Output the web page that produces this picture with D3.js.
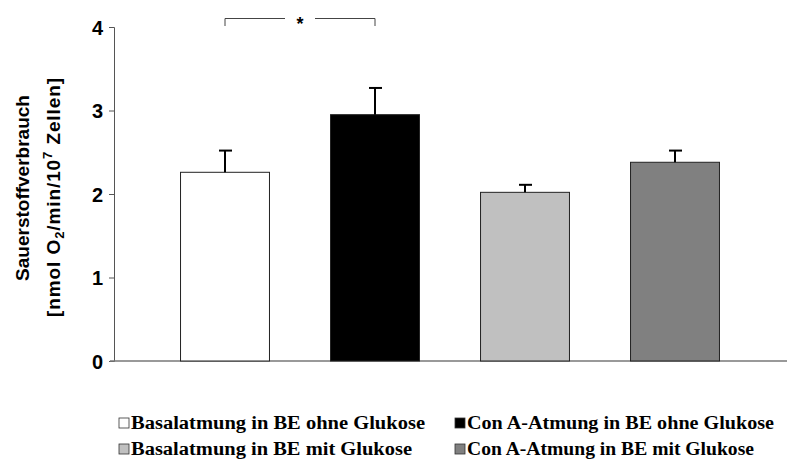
<!doctype html>
<html>
<head>
<meta charset="utf-8">
<title>Sauerstoffverbrauch</title>
<script src="https://cdn.jsdelivr.net/npm/d3@7"></script>
<style>
  body { margin: 0; background: #fff; }
  svg { display: block; }
</style>
</head>
<body>
<svg width="787" height="466"></svg>
<script>
// data
var categories = ["Basalatmung in BE ohne Glukose", "Con A-Atmung in BE ohne Glukose",
                  "Basalatmung in BE mit Glukose", "Con A-Atmung in BE mit Glukose"];
var means = [2.26, 2.95, 2.02, 2.38];
var errors = [0.26, 0.32, 0.09, 0.14];
var fills = ["#ffffff", "#000000", "#c0c0c0", "#808080"];
var yTicks = [0, 1, 2, 3, 4];

var svg = d3.select("svg");
var plotLeft = 114, plotRight = 786, plotTop = 27, plotBottom = 361;

var x = d3.scaleBand()
    .domain(categories)
    .range([plotLeft, plotRight])
    .paddingInner(0.407)
    .paddingOuter(0.4435);

var y = d3.scaleLinear()
    .domain([0, 4])
    .range([plotBottom, plotTop]);

// y axis
var yAxis = d3.axisLeft(y).tickValues(yTicks).tickSize(5).tickPadding(6).tickFormat(d3.format("d"));
var gy = svg.append("g")
    .attr("transform", "translate(" + plotLeft + ",0)")
    .call(yAxis);
gy.select(".domain").attr("stroke", "#555");
gy.selectAll(".tick line").attr("stroke", "#555");
gy.selectAll(".tick text")
    .attr("fill", "#000")
    .attr("dy", "0.36em")
    .style("font-family", "Arial, 'Liberation Sans', sans-serif")
    .style("font-weight", "bold")
    .style("font-size", "20px");

// x axis line
svg.append("line")
    .attr("x1", plotLeft - 4).attr("x2", plotRight + 1)
    .attr("y1", y(0)).attr("y2", y(0))
    .attr("stroke", "#777").attr("stroke-width", 1.5);

// bars
svg.selectAll("rect.bar")
    .data(categories)
    .enter().append("rect")
    .attr("class", "bar")
    .attr("x", function(d) { return x(d); })
    .attr("width", x.bandwidth())
    .attr("y", function(d, i) { return y(means[i]); })
    .attr("height", function(d, i) { return y(0) - y(means[i]); })
    .attr("fill", function(d, i) { return fills[i]; })
    .attr("stroke", "#222")
    .attr("stroke-width", 1);

// error bars (upper only)
var eb = svg.selectAll("g.err")
    .data(categories)
    .enter().append("g")
    .attr("class", "err");
eb.append("line")
    .attr("x1", function(d) { return x(d) + x.bandwidth() / 2; })
    .attr("x2", function(d) { return x(d) + x.bandwidth() / 2; })
    .attr("y1", function(d, i) { return y(means[i]); })
    .attr("y2", function(d, i) { return y(means[i] + errors[i]); })
    .attr("stroke", "#000").attr("stroke-width", 2);
eb.append("line")
    .attr("x1", function(d) { return x(d) + x.bandwidth() / 2 - 6; })
    .attr("x2", function(d) { return x(d) + x.bandwidth() / 2 + 7; })
    .attr("y1", function(d, i) { return y(means[i] + errors[i]); })
    .attr("y2", function(d, i) { return y(means[i] + errors[i]); })
    .attr("stroke", "#000").attr("stroke-width", 2);

// significance bracket between first two bars
var c1 = x(categories[0]) + x.bandwidth() / 2;
var c2 = x(categories[1]) + x.bandwidth() / 2;
var bTop = 18.5, bEnd = 26;
var mid = (c1 + c2) / 2;
svg.append("path")
    .attr("d", "M" + c1 + "," + bEnd + "V" + bTop + "H" + (mid - 15))
    .attr("fill", "none").attr("stroke", "#444").attr("stroke-width", 1);
svg.append("path")
    .attr("d", "M" + (mid + 15) + "," + bTop + "H" + c2 + "V" + bEnd)
    .attr("fill", "none").attr("stroke", "#444").attr("stroke-width", 1);
svg.append("text")
    .attr("x", mid).attr("y", 30)
    .attr("text-anchor", "middle")
    .style("font-family", "Arial, 'Liberation Sans', sans-serif")
    .style("font-weight", "bold")
    .style("font-size", "18px")
    .text("*");

// y axis title, two lines
var titleFont = "Arial, 'Liberation Sans', sans-serif";
svg.append("text")
    .attr("transform", "translate(29,188) rotate(-90)")
    .attr("text-anchor", "middle")
    .style("font-family", titleFont)
    .style("font-weight", "bold")
    .style("font-size", "19px")
    .text("Sauerstoffverbrauch");
var t2 = svg.append("text")
    .attr("transform", "translate(60,197) rotate(-90)")
    .attr("text-anchor", "middle")
    .style("font-family", titleFont)
    .style("font-weight", "bold")
    .style("font-size", "19px")
    .style("letter-spacing", "0.9px");
t2.append("tspan").text("[nmol O");
t2.append("tspan").attr("dy", 4).style("font-size", "13px").text("2");
t2.append("tspan").attr("dy", -4).text("/min/10");
t2.append("tspan").attr("dy", -8).style("font-size", "13px").text("7");
t2.append("tspan").attr("dy", 8).text(" Zellen]");

// legend
var legendPos = [
    { x: 121, y: 429, w: 294 },
    { x: 457, y: 429, w: 307 },
    { x: 121, y: 455, w: 281 },
    { x: 457, y: 455, w: 287 }
];
var lg = svg.selectAll("g.legend")
    .data(categories)
    .enter().append("g")
    .attr("class", "legend")
    .attr("transform", function(d, i) { return "translate(" + legendPos[i].x + "," + legendPos[i].y + ")"; });
lg.append("rect")
    .attr("x", -2).attr("y", -11)
    .attr("width", 10).attr("height", 10)
    .attr("fill", function(d, i) { return fills[i]; })
    .attr("stroke", "#333").attr("stroke-width", 0.8);
lg.append("text")
    .attr("x", 10)
    .attr("textLength", function(d, i) { return legendPos[i].w; })
    .attr("lengthAdjust", "spacingAndGlyphs")
    .style("font-family", "'Liberation Serif', 'Times New Roman', serif")
    .style("font-weight", "bold")
    .style("font-size", "18px")
    .text(function(d) { return d; });
</script>
</body>
</html>
